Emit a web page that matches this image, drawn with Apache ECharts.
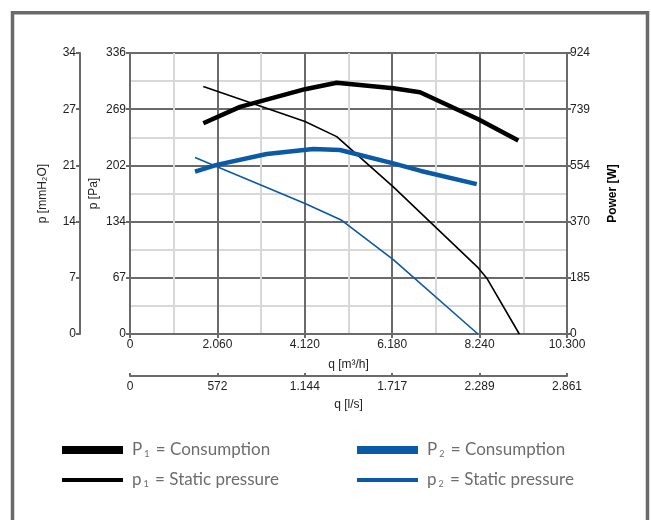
<!DOCTYPE html>
<html>
<head>
<meta charset="utf-8">
<script src="https://cdn.jsdelivr.net/npm/echarts@6/dist/echarts.min.js"></script>
<style>
html,body{margin:0;padding:0;background:#fff;}
#c{width:651px;height:520px;}
</style>
</head>
<body>
<div id="c"></div>
<script>
// ---- data ----
var qTicksM3h = [0, 2060, 4120, 6180, 8240, 10300];
var qTicksLs = [0, 572, 1144, 1717, 2289, 2861];
var paTicks = [0, 67, 134, 202, 269, 336];
var mmTicks = [0, 7, 14, 21, 27, 34];
var wTicks = [0, 185, 370, 554, 739, 924];

// P1 consumption (W)
var P1_q = [1728, 2593, 4125, 4872, 6206, 6835, 8209, 9152];
var P1_w = [693, 747, 805, 826, 808, 795, 706, 636];
// p1 static pressure (Pa)
var p1_q = [1728, 4125, 4872, 6206, 8209, 8406, 9176];
var p1_pa = [296, 254, 236, 176, 79, 67, 0];
// P2 consumption (W)
var P2_q = [1532, 2043, 3222, 4322, 4950, 6206, 6835, 8172];
var P2_w = [534, 556, 592, 608, 605, 561, 537, 493];
// p2 static pressure (Pa)
var p2_q = [1532, 4125, 4990, 6206, 8200];
var p2_pa = [211, 156, 136, 89, 0];

function zip(a, b) { return a.map(function (v, i) { return [v, b[i]]; }); }
function fmt(v) { return String(Math.round(v)).replace(/\B(?=(\d{3})+(?!\d))/g, '.'); }

var BLUE = '#0a5aa8';
var AX = '#6a6a6a';
var FONT = "'Liberation Sans', Arial, sans-serif";
var LFONT = "Lato, 'Noto Sans', sans-serif";
var LCOL = '#6d6d6d';
var labelFont = { color: '#222', fontSize: 12, fontFamily: FONT };

var chart = echarts.init(document.getElementById('c'), null, { renderer: 'canvas' });

function legendItem(name, left, top, h) {
  return {
    data: [{ name: name, icon: 'rect' }],
    left: left, top: top,
    itemWidth: 61, itemHeight: h,
    selectedMode: false,
    padding: 0,
    textStyle: {
      color: LCOL, fontSize: 17, fontFamily: LFONT,
      padding: [0, 0, 0, 4],
      rich: {
        a: { color: LCOL, fontSize: 17, lineHeight: 18, fontFamily: LFONT },
        s: { color: LCOL, fontSize: 9, lineHeight: 9, fontFamily: LFONT, verticalAlign: 'bottom', padding: [14, 2, 0, 2] }
      }
    },
    formatter: function (n) {
      var m = n.match(/^(\w)(\d)(.*)$/);
      return '{a|' + m[1] + '}{s|' + m[2] + '}{a|' + m[3] + '}';
    }
  };
}

var option = {
  animation: false,
  backgroundColor: '#fff',
  graphic: [{
    type: 'rect', left: 10, top: 10.3,
    shape: { x: 0, y: 0, width: 635, height: 540 },
    style: { fill: 'none', stroke: '#6a6a6a', lineWidth: 3.5 },
    silent: true
  }],
  grid: { left: 130, right: 84, top: 53, bottom: 186 },
  legend: [
    legendItem('P1 = Consumption', 62, 436, 8),
    legendItem('p1 = Static pressure', 62, 466, 4),
    legendItem('P2 = Consumption', 357, 436, 8),
    legendItem('p2 = Static pressure', 357, 466, 4)
  ],
  xAxis: [{
    type: 'value', min: 0, max: 10300, interval: 2060, position: 'bottom',
    name: 'q [m³/h]', nameLocation: 'middle', nameGap: 25,
    nameTextStyle: labelFont,
    axisLine: { onZero: false, lineStyle: { color: AX, width: 2 } },
    axisTick: { show: true, length: 4, lineStyle: { color: AX, width: 2 } },
    axisLabel: Object.assign({ margin: 5, formatter: function (v) { return fmt(v); } }, labelFont),
    splitLine: { show: true, lineStyle: { color: AX, width: 2 } },
    minorTick: { show: false, splitNumber: 2 },
    minorSplitLine: { show: true, lineStyle: { color: '#d8d8d8', width: 2 } }
  }, {
    type: 'value', min: 0, max: 2861, interval: 572.2, position: 'bottom', offset: 42,
    name: 'q [l/s]', nameLocation: 'middle', nameGap: 23,
    nameTextStyle: labelFont,
    axisLine: { onZero: false, lineStyle: { color: AX, width: 2 } },
    axisTick: { show: true, inside: true, length: 3, lineStyle: { color: AX, width: 2 } },
    axisLabel: Object.assign({ margin: 5, formatter: function (v) { return fmt(v); } }, labelFont),
    splitLine: { show: false }
  }],
  yAxis: [{
    type: 'value', min: 0, max: 336, interval: 67.2, position: 'left',
    name: 'p [Pa]', nameLocation: 'middle', nameGap: 30, nameRotate: 90, nameMoveOverlap: false,
    nameTextStyle: labelFont,
    axisLine: { show: true, onZero: false, lineStyle: { color: AX, width: 2 } },
    axisTick: { show: true, length: 4, lineStyle: { color: AX, width: 2 } },
    axisLabel: Object.assign({ margin: 4, formatter: function (v) { return fmt(v); } }, labelFont),
    splitLine: { show: true, lineStyle: { color: AX, width: 2 } },
    minorTick: { show: false, splitNumber: 2 },
    minorSplitLine: { show: true, lineStyle: { color: '#d8d8d8', width: 2 } }
  }, {
    type: 'value', min: 0, max: 34.26, interval: 6.852, position: 'left', offset: 50,
    name: 'p [mmH₂O]', nameLocation: 'middle', nameGap: 31, nameRotate: 90,
    nameTextStyle: labelFont,
    axisLine: { show: true, onZero: false, lineStyle: { color: AX, width: 2 } },
    axisTick: { show: true, length: 4, lineStyle: { color: AX, width: 2 } },
    axisLabel: Object.assign({ margin: 4, formatter: function (v) { return fmt(v); } }, labelFont),
    splitLine: { show: false }
  }, {
    type: 'value', min: 0, max: 924, interval: 184.8, position: 'right',
    name: 'Power [W]', nameLocation: 'middle', nameGap: 40, nameRotate: 90,
    nameTextStyle: Object.assign({}, labelFont, { fontWeight: 'bold', color: '#000' }),
    axisLine: { show: true, onZero: false, lineStyle: { color: AX, width: 2 } },
    axisTick: { show: true, length: 4, lineStyle: { color: AX, width: 2 } },
    axisLabel: Object.assign({ margin: 3, formatter: function (v) { return fmt(v); } }, labelFont),
    splitLine: { show: false }
  }],
  series: [{
    name: 'P1 = Consumption', type: 'line', xAxisIndex: 0, yAxisIndex: 2,
    data: zip(P1_q, P1_w), showSymbol: false, symbol: 'none',
    lineStyle: { color: '#000', width: 4.5 }, itemStyle: { color: '#000' }
  }, {
    name: 'p1 = Static pressure', type: 'line', xAxisIndex: 0, yAxisIndex: 0,
    data: zip(p1_q, p1_pa), showSymbol: false, symbol: 'none',
    lineStyle: { color: '#000', width: 1.6 }, itemStyle: { color: '#000' }
  }, {
    name: 'P2 = Consumption', type: 'line', xAxisIndex: 0, yAxisIndex: 2,
    data: zip(P2_q, P2_w), showSymbol: false, symbol: 'none',
    lineStyle: { color: BLUE, width: 4.5 }, itemStyle: { color: BLUE }
  }, {
    name: 'p2 = Static pressure', type: 'line', xAxisIndex: 0, yAxisIndex: 0,
    data: zip(p2_q, p2_pa), showSymbol: false, symbol: 'none',
    lineStyle: { color: BLUE, width: 1.6 }, itemStyle: { color: BLUE }
  }]
};
chart.setOption(option);
</script>
</body>
</html>
